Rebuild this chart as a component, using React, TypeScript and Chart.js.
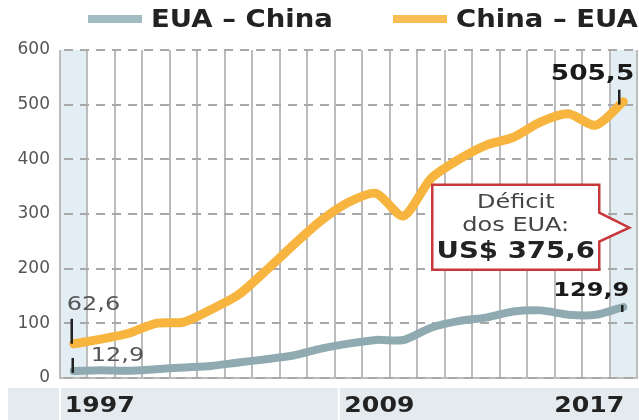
import React, { useEffect, useRef } from "react";
import { Chart, registerables } from "chart.js";

Chart.register(...registerables);

const years = ["1997","1998","1999","2000","2001","2002","2003","2004","2005","2006","2007","2008","2009","2010","2011","2012","2013","2014","2015","2016","2017"];
const euaChina = [12.9, 14.2, 13.1, 16.2, 19.2, 22.1, 28.4, 34.4, 41.2, 53.7, 62.9, 69.7, 69.5, 91.9, 104.1, 110.5, 121.7, 123.7, 115.9, 115.6, 129.9];
const chinaEua = [62.6, 71.2, 81.8, 100.0, 102.3, 125.2, 152.4, 196.7, 243.5, 287.8, 321.4, 337.8, 296.4, 364.9, 399.4, 425.6, 440.4, 468.5, 483.2, 462.4, 505.5];
const seriesLabels = ["EUA – China", "China – EUA"];
const shownYears = ["1997", "2009", "2017"];
const yTicks = [0, 100, 200, 300, 400, 500, 600];
const deficitLines = ["Déficit", "dos EUA:", "US$ 375,6"];

const GREY = "#8faab0";
const ORANGE = "#f7b540";
const FONT = "'DejaVu Sans', sans-serif";

function txt(ctx: CanvasRenderingContext2D, s: string, x: number, y: number, font: string, color: string, align: CanvasTextAlign, sx = 1.2) {
  ctx.save();
  ctx.font = font;
  ctx.fillStyle = color;
  ctx.textBaseline = "middle";
  ctx.translate(x, y);
  ctx.scale(sx, 1);
  ctx.textAlign = align;
  ctx.fillText(s, 0, 0);
  ctx.restore();
}

function vline(ctx: CanvasRenderingContext2D, x: number, y1: number, y2: number) {
  ctx.save();
  ctx.strokeStyle = "#222";
  ctx.lineWidth = 2.5;
  ctx.beginPath();
  ctx.moveTo(x, y1);
  ctx.lineTo(x, y2);
  ctx.stroke();
  ctx.restore();
}

const decor = {
  id: "decor",
  beforeDraw(chart: any) {
    const { ctx, chartArea: ca, scales } = chart;
    const x = scales.x;
    const step = x.getPixelForValue(1) - x.getPixelForValue(0);
    ctx.save();
    ctx.fillStyle = "#e3edf4";
    ctx.fillRect(ca.left, ca.top, step, ca.bottom - ca.top);
    ctx.fillRect(ca.right - step, ca.top, step, ca.bottom - ca.top);
    ctx.fillStyle = "#e4eaee";
    ctx.fillRect(8, ca.bottom + 10, chart.width - 8, chart.height - ca.bottom - 10);
    ctx.fillStyle = "#ffffff";
    ctx.fillRect(ca.left - 1, ca.bottom + 10, 2, chart.height - ca.bottom - 10);
    const sep = ca.left + step * 10;
    ctx.fillRect(sep + 3, ca.bottom + 10, 2, chart.height - ca.bottom - 10);
    ctx.restore();
  },
  beforeDatasetsDraw(chart: any) {
    const { ctx, chartArea: ca, scales } = chart;
    const y = scales.y;
    ctx.save();
    ctx.setLineDash([]);
    ctx.globalAlpha = 1;
    ctx.fillStyle = "#a8a8a8";
    y.ticks.forEach((t: any) => {
      const py = Math.round(y.getPixelForValue(t.value)) - 1;
      for (let px = ca.left + 4; px < ca.right; px += 16) {
        ctx.fillRect(px, py, Math.min(9, ca.right - px), 2);
      }
    });
    ctx.restore();
  },
  afterDatasetsDraw(chart: any) {
    const { ctx, chartArea: ca, scales } = chart;
    const x = scales.x;
    const y = scales.y;
    const last = years.length - 1;
    const x0 = x.getPixelForValue(0);
    const xl = x.getPixelForValue(last);

    const ds = chart.data.datasets;
    const legendY = 19;
    const legendPos = [88, 393];
    ds.forEach((d: any, i: number) => {
      ctx.save();
      ctx.strokeStyle = i === 0 ? "#a3bcc2" : "#f8be55";
      ctx.lineWidth = 8;
      ctx.beginPath();
      ctx.moveTo(legendPos[i], legendY);
      ctx.lineTo(legendPos[i] + 54, legendY);
      ctx.stroke();
      ctx.restore();
      txt(ctx, d.label, legendPos[i] + 63, legendY + 1, `bold 25px ${FONT}`, "#222", "left", 1.1);
    });

    const yo0 = y.getPixelForValue(chinaEua[0]);
    const yg0 = y.getPixelForValue(euaChina[0]);
    vline(ctx, x0 - 2, yo0, yo0 - 25);
    txt(ctx, "62,6", x0 - 7, yo0 - 39, `20px ${FONT}`, "#555", "left");
    vline(ctx, x0 - 1, yg0 + 2, yg0 - 13);
    txt(ctx, "12,9", x0 + 17, yg0 - 15, `20px ${FONT}`, "#555", "left");

    const yoL = y.getPixelForValue(chinaEua[last]);
    const ygL = y.getPixelForValue(euaChina[last]);
    vline(ctx, xl - 4, yoL + 3, yoL - 12);
    txt(ctx, "505,5", xl + 11, yoL - 27, `bold 22px ${FONT}`, "#1a1a1a", "right");
    vline(ctx, xl - 1, ygL + 5, ygL - 2);
    txt(ctx, "129,9", xl + 6, ygL - 16, `bold 20px ${FONT}`, "#1a1a1a", "right");

    const tipX = xl + 6;
    const tipY = y.getPixelForValue(275);
    const L = tipX - 197, R = tipX - 30, T = tipY - 43, B = tipY + 42;
    ctx.save();
    ctx.beginPath();
    ctx.moveTo(L, T);
    ctx.lineTo(R, T);
    ctx.lineTo(R, tipY - 15);
    ctx.lineTo(tipX, tipY);
    ctx.lineTo(R, tipY + 14);
    ctx.lineTo(R, B);
    ctx.lineTo(L, B);
    ctx.closePath();
    ctx.fillStyle = "#ffffff";
    ctx.fill();
    ctx.strokeStyle = "#c8373b";
    ctx.lineWidth = 2.5;
    ctx.stroke();
    ctx.restore();
    const cx = (L + R) / 2;
    txt(ctx, deficitLines[0], cx, T + 18, `20px ${FONT}`, "#444", "center");
    txt(ctx, deficitLines[1], cx, T + 41, `20px ${FONT}`, "#444", "center");
    txt(ctx, deficitLines[2], cx, T + 67, `bold 23px ${FONT}`, "#222", "center");

    const labY = ca.bottom + 29;
    shownYears.forEach((yr) => {
      const i = years.indexOf(yr);
      const px = x.getPixelForValue(i);
      if (i === 0) txt(ctx, yr, px - 9, labY, `bold 21px ${FONT}`, "#222", "left");
      else if (i === last) txt(ctx, yr, px + 1, labY, `bold 21px ${FONT}`, "#222", "right");
      else txt(ctx, yr, px + 11, labY, `bold 21px ${FONT}`, "#222", "right");
    });
  },
};

export default function App() {
  const ref = useRef<HTMLCanvasElement>(null);
  useEffect(() => {
    if (!ref.current) return;
    const chart = new Chart(ref.current, {
      type: "line",
      data: {
        labels: years,
        datasets: [
          { label: seriesLabels[0], data: euaChina, borderColor: GREY, backgroundColor: GREY, borderWidth: 8, pointRadius: 0, tension: 0.25, borderCapStyle: "round", borderJoinStyle: "round" },
          { label: seriesLabels[1], data: chinaEua, borderColor: ORANGE, backgroundColor: ORANGE, borderWidth: 9, pointRadius: 0, tension: 0.25, borderCapStyle: "round", borderJoinStyle: "round" },
        ],
      },
      options: {
        animation: false,
        responsive: true,
        maintainAspectRatio: false,
        layout: { padding: { top: 50, right: 2, left: 0, bottom: 0 } },
        plugins: { legend: { display: false }, tooltip: { enabled: false } },
        scales: {
          x: {
            type: "category",
            offset: true,
            grid: { display: true, offset: true, color: "#bcbcbc", lineWidth: 2, drawTicks: false },
            border: { display: true, color: "#bcbcbc", width: 2 },
            ticks: { display: false },
            afterFit: (s: any) => { s.height = 42; },
          },
          y: {
            min: 0,
            max: 600,
            afterBuildTicks: (s: any) => { s.ticks = yTicks.map((v) => ({ value: v })); },
            grid: { display: false, drawTicks: false },
            border: { display: false },
            ticks: { padding: 10, color: "#555", font: { family: "'DejaVu Sans', sans-serif", size: 17 } },
            afterFit: (s: any) => { s.width = 60; },
          },
        },
      },
      plugins: [decor],
    });
    return () => chart.destroy();
  }, []);
  return (
    <div style={{ position: "absolute", left: 0, top: 0, width: 639, height: 420, background: "#fff" }}>
      <canvas ref={ref} />
    </div>
  );
}
